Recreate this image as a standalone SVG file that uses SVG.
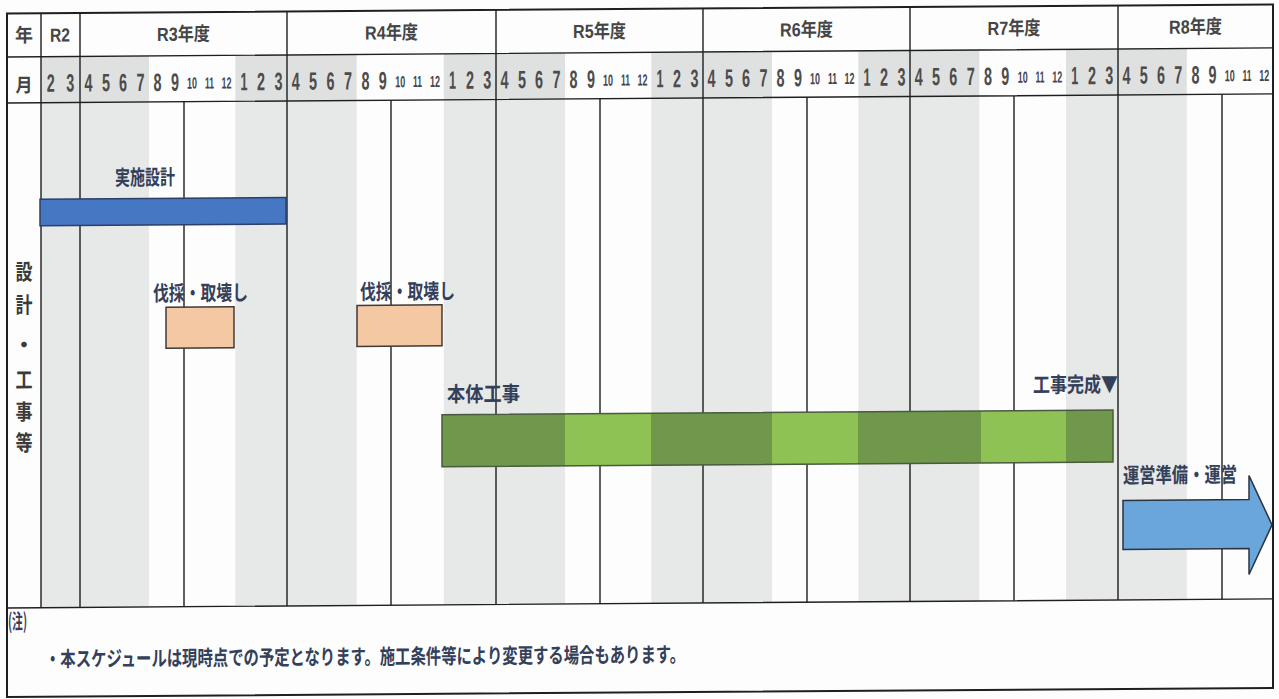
<svg xmlns="http://www.w3.org/2000/svg" width="1279" height="699" viewBox="0 0 1279 699">
<style>
.ln{stroke:#1f1f1f;stroke-width:1.4;fill:none}
.fr{stroke:#1f1f1f;stroke-width:2;fill:none}
.bg{fill:#e7e8e8}
.hg{fill:#dfe0e0}
.h{font-family:"Liberation Sans","Noto Sans CJK JP",sans-serif;font-weight:bold;font-size:19px;fill:#454545;text-anchor:middle}
.n{font-family:"Liberation Sans",sans-serif;font-weight:bold;font-size:25px;fill:#4c4c4c;text-anchor:middle}
.s{font-family:"Liberation Sans",sans-serif;font-weight:bold;font-size:16px;fill:#44444e;text-anchor:middle}
.j{font-family:"Noto Sans CJK JP",sans-serif;font-weight:bold;font-size:21px;fill:#34405a}
.v{font-family:"Noto Sans CJK JP",sans-serif;font-weight:bold;font-size:22px;fill:#3a3a3a;text-anchor:middle}
</style>
<rect width="1279" height="699" fill="#fdfdfd"/>
<g transform="skewY(-0.41)">
<g id="bands">
<rect class="hg" x="41" y="57" width="108" height="46"/>
<rect class="hg" x="235.3" y="57" width="121.4" height="46"/>
<rect class="hg" x="443.8" y="57" width="121.2" height="46"/>
<rect class="hg" x="651.3" y="57" width="120.7" height="46"/>
<rect class="hg" x="858.3" y="57" width="121" height="46"/>
<rect class="hg" x="1066" y="57" width="120.8" height="46"/>
<rect class="bg" x="41" y="103" width="108" height="505"/>
<rect class="bg" x="235.3" y="103" width="121.4" height="505"/>
<rect class="bg" x="443.8" y="103" width="121.2" height="505"/>
<rect class="bg" x="651.3" y="103" width="120.7" height="505"/>
<rect class="bg" x="858.3" y="103" width="121" height="505"/>
<rect class="bg" x="1066" y="103" width="120.8" height="505"/>
</g>
<g id="grid">
<rect class="fr" x="7" y="13.5" width="1266" height="683.5"/>
<path class="ln" d="M7,57H1273M7,103H1273M7,608H1273"/>
<path class="ln" d="M41,13.5V608M80,13.5V608M287,13.5V608M496,13.5V608M703,13.5V608M910,13.5V608M1118,13.5V608"/>
<path class="ln" d="M184,103V608M391,103V608M600,103V608M807,103V608M1014,103V608M1222,103V608"/>
</g>
<g id="header-years">
<text class="h" x="24" y="42" font-size="20" textLength="18" lengthAdjust="spacingAndGlyphs">年</text>
<text class="h" x="60" y="42" textLength="20" lengthAdjust="spacingAndGlyphs">R2</text>
<text class="h" x="183.5" y="42" textLength="53" lengthAdjust="spacingAndGlyphs">R3年度</text>
<text class="h" x="391.5" y="42" textLength="53" lengthAdjust="spacingAndGlyphs">R4年度</text>
<text class="h" x="599.5" y="42" textLength="53" lengthAdjust="spacingAndGlyphs">R5年度</text>
<text class="h" x="806.5" y="42" textLength="53" lengthAdjust="spacingAndGlyphs">R6年度</text>
<text class="h" x="1014" y="42" textLength="53" lengthAdjust="spacingAndGlyphs">R7年度</text>
<text class="h" x="1195.5" y="42" textLength="53" lengthAdjust="spacingAndGlyphs">R8年度</text>
</g>
<g id="header-months">
<text class="h" x="24" y="92" font-size="23" textLength="17" lengthAdjust="spacingAndGlyphs">月</text>
<text class="n" x="50.8" y="92" textLength="8" lengthAdjust="spacingAndGlyphs">2</text>
<text class="n" x="70.3" y="92" textLength="8" lengthAdjust="spacingAndGlyphs">3</text>
<text class="n" x="88.6" y="92" textLength="8" lengthAdjust="spacingAndGlyphs">4</text>
<text class="n" x="105.9" y="92" textLength="8" lengthAdjust="spacingAndGlyphs">5</text>
<text class="n" x="123.1" y="92" textLength="8" lengthAdjust="spacingAndGlyphs">6</text>
<text class="n" x="140.4" y="92" textLength="8" lengthAdjust="spacingAndGlyphs">7</text>
<text class="n" x="157.6" y="92" textLength="8" lengthAdjust="spacingAndGlyphs">8</text>
<text class="n" x="174.9" y="92" textLength="8" lengthAdjust="spacingAndGlyphs">9</text>
<text class="s" x="192.1" y="90" textLength="10" lengthAdjust="spacingAndGlyphs" fill="#4a5a8a">10</text>
<text class="s" x="209.4" y="90" textLength="9" lengthAdjust="spacingAndGlyphs">11</text>
<text class="s" x="226.6" y="90" textLength="10" lengthAdjust="spacingAndGlyphs" fill="#7a5060">12</text>
<text class="n" x="243.9" y="92" textLength="7" lengthAdjust="spacingAndGlyphs">1</text>
<text class="n" x="261.1" y="92" textLength="8" lengthAdjust="spacingAndGlyphs">2</text>
<text class="n" x="278.4" y="92" textLength="8" lengthAdjust="spacingAndGlyphs">3</text>
<text class="n" x="295.7" y="92" textLength="8" lengthAdjust="spacingAndGlyphs">4</text>
<text class="n" x="313.1" y="92" textLength="8" lengthAdjust="spacingAndGlyphs">5</text>
<text class="n" x="330.5" y="92" textLength="8" lengthAdjust="spacingAndGlyphs">6</text>
<text class="n" x="347.9" y="92" textLength="8" lengthAdjust="spacingAndGlyphs">7</text>
<text class="n" x="365.4" y="92" textLength="8" lengthAdjust="spacingAndGlyphs">8</text>
<text class="n" x="382.8" y="92" textLength="8" lengthAdjust="spacingAndGlyphs">9</text>
<text class="s" x="400.2" y="90" textLength="10" lengthAdjust="spacingAndGlyphs" fill="#4a5a8a">10</text>
<text class="s" x="417.6" y="90" textLength="9" lengthAdjust="spacingAndGlyphs">11</text>
<text class="s" x="435" y="90" textLength="10" lengthAdjust="spacingAndGlyphs" fill="#7a5060">12</text>
<text class="n" x="452.4" y="92" textLength="7" lengthAdjust="spacingAndGlyphs">1</text>
<text class="n" x="469.9" y="92" textLength="8" lengthAdjust="spacingAndGlyphs">2</text>
<text class="n" x="487.3" y="92" textLength="8" lengthAdjust="spacingAndGlyphs">3</text>
<text class="n" x="504.6" y="92" textLength="8" lengthAdjust="spacingAndGlyphs">4</text>
<text class="n" x="521.9" y="92" textLength="8" lengthAdjust="spacingAndGlyphs">5</text>
<text class="n" x="539.1" y="92" textLength="8" lengthAdjust="spacingAndGlyphs">6</text>
<text class="n" x="556.4" y="92" textLength="8" lengthAdjust="spacingAndGlyphs">7</text>
<text class="n" x="573.6" y="92" textLength="8" lengthAdjust="spacingAndGlyphs">8</text>
<text class="n" x="590.9" y="92" textLength="8" lengthAdjust="spacingAndGlyphs">9</text>
<text class="s" x="608.1" y="90" textLength="10" lengthAdjust="spacingAndGlyphs" fill="#4a5a8a">10</text>
<text class="s" x="625.4" y="90" textLength="9" lengthAdjust="spacingAndGlyphs">11</text>
<text class="s" x="642.6" y="90" textLength="10" lengthAdjust="spacingAndGlyphs" fill="#7a5060">12</text>
<text class="n" x="659.9" y="92" textLength="7" lengthAdjust="spacingAndGlyphs">1</text>
<text class="n" x="677.1" y="92" textLength="8" lengthAdjust="spacingAndGlyphs">2</text>
<text class="n" x="694.4" y="92" textLength="8" lengthAdjust="spacingAndGlyphs">3</text>
<text class="n" x="711.6" y="92" textLength="8" lengthAdjust="spacingAndGlyphs">4</text>
<text class="n" x="728.9" y="92" textLength="8" lengthAdjust="spacingAndGlyphs">5</text>
<text class="n" x="746.1" y="92" textLength="8" lengthAdjust="spacingAndGlyphs">6</text>
<text class="n" x="763.4" y="92" textLength="8" lengthAdjust="spacingAndGlyphs">7</text>
<text class="n" x="780.6" y="92" textLength="8" lengthAdjust="spacingAndGlyphs">8</text>
<text class="n" x="797.9" y="92" textLength="8" lengthAdjust="spacingAndGlyphs">9</text>
<text class="s" x="815.1" y="90" textLength="10" lengthAdjust="spacingAndGlyphs" fill="#4a5a8a">10</text>
<text class="s" x="832.4" y="90" textLength="9" lengthAdjust="spacingAndGlyphs">11</text>
<text class="s" x="849.6" y="90" textLength="10" lengthAdjust="spacingAndGlyphs" fill="#7a5060">12</text>
<text class="n" x="866.9" y="92" textLength="7" lengthAdjust="spacingAndGlyphs">1</text>
<text class="n" x="884.1" y="92" textLength="8" lengthAdjust="spacingAndGlyphs">2</text>
<text class="n" x="901.4" y="92" textLength="8" lengthAdjust="spacingAndGlyphs">3</text>
<text class="n" x="918.7" y="92" textLength="8" lengthAdjust="spacingAndGlyphs">4</text>
<text class="n" x="936" y="92" textLength="8" lengthAdjust="spacingAndGlyphs">5</text>
<text class="n" x="953.3" y="92" textLength="8" lengthAdjust="spacingAndGlyphs">6</text>
<text class="n" x="970.7" y="92" textLength="8" lengthAdjust="spacingAndGlyphs">7</text>
<text class="n" x="988" y="92" textLength="8" lengthAdjust="spacingAndGlyphs">8</text>
<text class="n" x="1005.3" y="92" textLength="8" lengthAdjust="spacingAndGlyphs">9</text>
<text class="s" x="1022.7" y="90" textLength="10" lengthAdjust="spacingAndGlyphs" fill="#4a5a8a">10</text>
<text class="s" x="1040" y="90" textLength="9" lengthAdjust="spacingAndGlyphs">11</text>
<text class="s" x="1057.3" y="90" textLength="10" lengthAdjust="spacingAndGlyphs" fill="#7a5060">12</text>
<text class="n" x="1074.7" y="92" textLength="7" lengthAdjust="spacingAndGlyphs">1</text>
<text class="n" x="1092" y="92" textLength="8" lengthAdjust="spacingAndGlyphs">2</text>
<text class="n" x="1109.3" y="92" textLength="8" lengthAdjust="spacingAndGlyphs">3</text>
<text class="n" x="1126.6" y="92" textLength="8" lengthAdjust="spacingAndGlyphs">4</text>
<text class="n" x="1143.8" y="92" textLength="8" lengthAdjust="spacingAndGlyphs">5</text>
<text class="n" x="1161" y="92" textLength="8" lengthAdjust="spacingAndGlyphs">6</text>
<text class="n" x="1178.2" y="92" textLength="8" lengthAdjust="spacingAndGlyphs">7</text>
<text class="n" x="1195.4" y="92" textLength="8" lengthAdjust="spacingAndGlyphs">8</text>
<text class="n" x="1212.6" y="92" textLength="8" lengthAdjust="spacingAndGlyphs">9</text>
<text class="s" x="1229.8" y="90" textLength="10" lengthAdjust="spacingAndGlyphs" fill="#4a5a8a">10</text>
<text class="s" x="1247" y="90" textLength="9" lengthAdjust="spacingAndGlyphs">11</text>
<text class="s" x="1264.2" y="90" textLength="10" lengthAdjust="spacingAndGlyphs" fill="#7a5060">12</text>
</g>
<g id="row-label">
<text class="v" x="24" y="280" textLength="17" lengthAdjust="spacingAndGlyphs">設</text>
<text class="v" x="24" y="313" textLength="17" lengthAdjust="spacingAndGlyphs">計</text>
<text class="v" x="24" y="353">・</text>
<text class="v" x="24" y="388" textLength="17" lengthAdjust="spacingAndGlyphs">工</text>
<text class="v" x="24" y="420" textLength="17" lengthAdjust="spacingAndGlyphs">事</text>
<text class="v" x="24" y="451" textLength="17" lengthAdjust="spacingAndGlyphs">等</text>
</g>
<g id="task-design">
<rect x="40" y="199.5" width="246" height="26.5" fill="#4677c2" stroke="#2c3f66" stroke-width="1.5"/>
<text class="j" x="115" y="186" textLength="60" lengthAdjust="spacingAndGlyphs">実施設計</text>
</g>
<g id="task-demolition-1">
<rect x="166" y="308.5" width="68" height="41" fill="#f3c8a2" stroke="#3e3a38" stroke-width="1.5"/>
<text class="j" x="153" y="302" textLength="95" lengthAdjust="spacingAndGlyphs">伐採・取壊し</text>
</g>
<g id="task-demolition-2">
<rect x="357" y="308" width="85" height="41" fill="#f3c8a2" stroke="#3e3a38" stroke-width="1.5"/>
<text class="j" x="360" y="302" textLength="95" lengthAdjust="spacingAndGlyphs">伐採・取壊し</text>
</g>
<g id="task-construction">
<rect x="442" y="418" width="123" height="52" fill="#6f984a"/>
<rect x="565" y="418" width="86" height="52" fill="#8ec255"/>
<rect x="651" y="418" width="121" height="52" fill="#6f984a"/>
<rect x="772" y="418" width="86" height="52" fill="#8ec255"/>
<rect x="858" y="418" width="123" height="52" fill="#6f984a"/>
<rect x="981" y="418" width="85" height="52" fill="#8ec255"/>
<rect x="1066" y="418" width="47" height="52" fill="#6f984a"/>
<rect x="442" y="418" width="671" height="52" fill="none" stroke="#4a5a40" stroke-width="1.5"/>
<text class="j" x="447" y="405" font-size="22" textLength="73" lengthAdjust="spacingAndGlyphs">本体工事</text>
</g>
<g id="milestone">
<text class="j" x="1033" y="400" textLength="85" lengthAdjust="spacingAndGlyphs" fill="#3a3a48">工事完成▼</text>
</g>
<g id="task-operation">
<path d="M1123,508.5H1249V484.5L1272,534L1249,583.5V557.5H1123Z" fill="#6aa5dc" stroke="#2a3440" stroke-width="1.5"/>
<text class="j" x="1123" y="491" textLength="114" lengthAdjust="spacingAndGlyphs" fill="#4a4e5e">運営準備・運営</text>
</g>
<g id="notes">
<text class="j" x="8" y="629" font-size="15" textLength="19" lengthAdjust="spacingAndGlyphs" fill="#6a6aa0">(注)</text>
<text class="j" x="45" y="667" font-size="18" textLength="640" lengthAdjust="spacingAndGlyphs" fill="#3c4662">・本スケジュールは現時点での予定となります。施工条件等により変更する場合もあります。</text>
</g>
</g>
</svg>
